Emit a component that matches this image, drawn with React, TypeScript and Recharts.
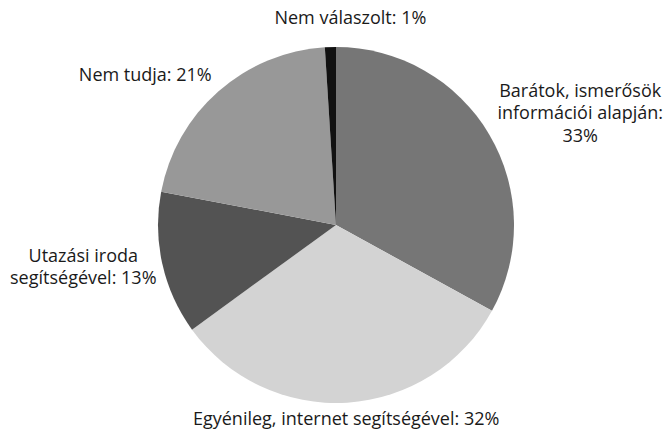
import React from "react";
import { PieChart, Pie, Cell } from "recharts";

const categories = [
  "Barátok, ismerősök információi alapján",
  "Egyénileg, internet segítségével",
  "Utazási iroda segítségével",
  "Nem tudja",
  "Nem válaszolt",
];
const values = [33, 32, 13, 21, 1];
const labelLines: string[][] = [
  ["Barátok, ismerősök", "információi alapján:", "33%"],
  ["Egyénileg, internet segítségével: 32%"],
  ["Utazási iroda", "segítségével: 13%"],
  ["Nem tudja: 21%"],
  ["Nem válaszolt: 1%"],
];
const colors = ["#767676", "#d3d3d3", "#535353", "#989898", "#111111"];
// label block centre offsets from the slice's outer mid point
const labelOffsets = [
  [91, -22],
  [-1, 15],
  [-79, 2],
  [-73, -17],
  [20, -30],
];

const data = categories.map((name, i) => ({ name, value: values[i] }));

const RAD = Math.PI / 180;
const LINE_H = 22.5;

const renderLabel = (props: any) => {
  const { cx, cy, midAngle, outerRadius, index } = props;
  const ax = cx + outerRadius * Math.cos(-midAngle * RAD);
  const ay = cy + outerRadius * Math.sin(-midAngle * RAD);
  const [dx, dy] = labelOffsets[index];
  const lines = labelLines[index];
  const x = ax + dx;
  const y0 = ay + dy - ((lines.length - 1) * LINE_H) / 2;
  return (
    <text
      key={`lbl-${index}`}
      x={x}
      y={y0}
      textAnchor="middle"
      dominantBaseline="central"
      fill="#1a1a1a"
      fontSize={18}
      fontFamily="'Open Sans', sans-serif"
    >
      {lines.map((l, i) => (
        <tspan key={i} x={x} y={y0 + i * LINE_H}>
          {l}
        </tspan>
      ))}
    </text>
  );
};

export default function App() {
  return (
    <div style={{ position: "absolute", left: 0, top: 0, background: "#fff" }}>
      <PieChart width={672} height={435} margin={{ top: 0, right: 0, bottom: 0, left: 0 }}>
        <Pie
          data={data}
          dataKey="value"
          nameKey="name"
          cx={336}
          cy={225}
          outerRadius={178}
          startAngle={90}
          endAngle={-270}
          stroke="none"
          label={renderLabel}
          labelLine={false}
          isAnimationActive={false}
        >
          {data.map((_, i) => (
            <Cell key={i} fill={colors[i]} />
          ))}
        </Pie>
      </PieChart>
    </div>
  );
}
